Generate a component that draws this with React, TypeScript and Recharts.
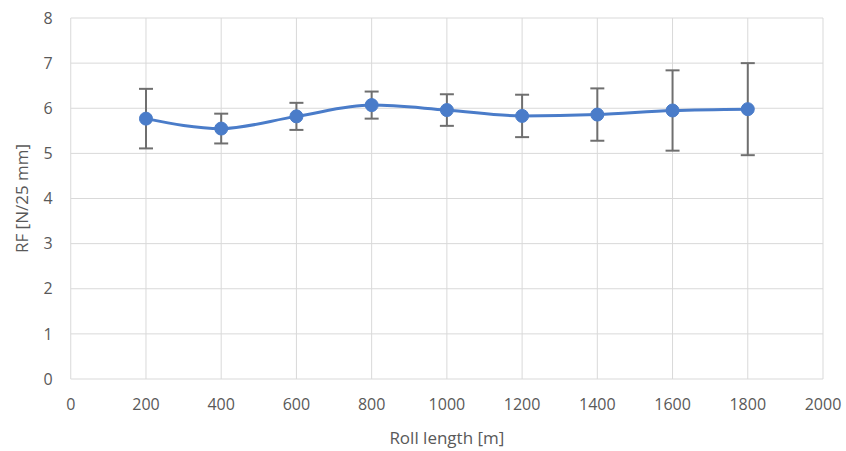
import { LineChart, Line, XAxis, YAxis, CartesianGrid, ErrorBar } from 'recharts';

const rollLength = [200, 400, 600, 800, 1000, 1200, 1400, 1600, 1800];
const rfValues = [5.77, 5.55, 5.82, 6.07, 5.96, 5.83, 5.86, 5.95, 5.98];
const rfErrors = [0.66, 0.33, 0.3, 0.3, 0.35, 0.47, 0.58, 0.89, 1.02];
const xTicks = [0, 200, 400, 600, 800, 1000, 1200, 1400, 1600, 1800, 2000];
const yTicks = [0, 1, 2, 3, 4, 5, 6, 7, 8];

const FONT = '"Open Sans", "Liberation Sans", sans-serif';

export default function App() {
    const data = rollLength.map((x, i) => ({ x, rf: rfValues[i], err: rfErrors[i] }));

    return (
        <div style={{ position: 'absolute', left: 0, top: 0, width: 846, height: 451, background: '#fff', fontFamily: FONT }}>
            <LineChart width={846} height={451} data={data} margin={{ top: 18, right: 23, bottom: 0, left: 10 }}>
                <CartesianGrid stroke="#d9d9d9" strokeWidth={1} />
                <XAxis
                    dataKey="x"
                    type="number"
                    domain={[0, 2000]}
                    ticks={xTicks}
                    height={72}
                    axisLine={false}
                    tickLine={false}
                    tickMargin={14}
                    tick={{ fill: '#595959', fontSize: 16, fontFamily: FONT }}
                    label={{ value: 'Roll length [m]', position: 'insideBottom', offset: 7, fill: '#595959', fontSize: 17, fontFamily: FONT }}
                />
                <YAxis
                    type="number"
                    domain={[0, 8]}
                    ticks={yTicks}
                    width={60.75}
                    axisLine={false}
                    tickLine={false}
                    tickMargin={12}
                    tick={{ fill: '#595959', fontSize: 16, fontFamily: FONT }}
                    label={{ value: 'RF [N/25 mm]', angle: -90, position: 'insideLeft', offset: 12, fill: '#595959', fontSize: 17, fontFamily: FONT, style: { textAnchor: 'middle' } }}
                />
                <Line
                    type="monotone"
                    dataKey="rf"
                    stroke="#4a7cc9"
                    strokeWidth={3}
                    dot={{ r: 6.5, fill: '#4a7cc9', stroke: '#4a7cc9', strokeWidth: 1 }}
                    isAnimationActive={false}
                >
                    <ErrorBar dataKey="err" width={7} stroke="#6f6f6f" strokeWidth={2} direction="y" />
                </Line>
            </LineChart>
        </div>
    );
}
